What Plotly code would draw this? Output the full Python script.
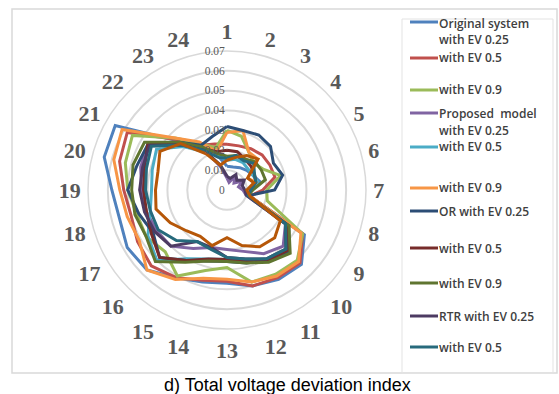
import plotly.graph_objects as go

categories = [str(i) for i in range(1, 25)]

series_names = [
    "Original system with EV 0.25", "Original system with EV 0.5", "Original system with EV 0.9",
    "Proposed model with EV 0.25", "Proposed model with EV 0.5", "Proposed model with EV 0.9",
    "OR with EV 0.25", "OR with EV 0.5", "OR with EV 0.9",
    "RTR with EV 0.25", "RTR with EV 0.5", "RTR with EV 0.9",
]

orig_025 = [0.012, 0.012, 0.013, 0.014, 0.015, 0.017, 0.012, 0.012, 0.045, 0.053, 0.052, 0.050,
            0.047, 0.048, 0.051, 0.057, 0.058, 0.056, 0.058, 0.064, 0.065, 0.035, 0.025, 0.018]
orig_05 = [0.023, 0.023, 0.024, 0.025, 0.025, 0.025, 0.018, 0.012, 0.044, 0.052, 0.051, 0.050,
           0.046, 0.047, 0.051, 0.054, 0.052, 0.050, 0.052, 0.056, 0.058, 0.036, 0.026, 0.024]
orig_09 = [0.030, 0.028, 0.022, 0.019, 0.021, 0.028, 0.020, 0.021, 0.044, 0.050, 0.049, 0.048,
           0.039, 0.042, 0.050, 0.044, 0.047, 0.047, 0.050, 0.053, 0.055, 0.037, 0.027, 0.022]
prop_025 = [0.006, 0.004, 0.008, 0.005, 0.009, 0.006, 0.008, 0.010, 0.034, 0.040, 0.037, 0.032,
            0.030, 0.030, 0.034, 0.040, 0.041, 0.042, 0.043, 0.045, 0.046, 0.033, 0.024, 0.012]
prop_05 = [0.015, 0.016, 0.016, 0.015, 0.015, 0.016, 0.012, 0.011, 0.035, 0.042, 0.040, 0.037,
           0.035, 0.036, 0.040, 0.050, 0.046, 0.040, 0.038, 0.039, 0.041, 0.031, 0.022, 0.018]
prop_09 = [0.029, 0.031, 0.022, 0.022, 0.012, 0.015, 0.012, 0.012, 0.043, 0.051, 0.050, 0.048,
           0.045, 0.046, 0.052, 0.057, 0.051, 0.052, 0.054, 0.059, 0.061, 0.037, 0.028, 0.020]
or_025 = [0.032, 0.031, 0.032, 0.031, 0.027, 0.029, 0.024, 0.011, 0.036, 0.044, 0.041, 0.038,
          0.036, 0.037, 0.041, 0.048, 0.043, 0.046, 0.050, 0.047, 0.046, 0.034, 0.026, 0.028]
or_05 = [0.020, 0.020, 0.018, 0.017, 0.016, 0.015, 0.012, 0.011, 0.035, 0.043, 0.041, 0.037,
         0.035, 0.036, 0.041, 0.048, 0.044, 0.042, 0.042, 0.043, 0.046, 0.033, 0.024, 0.020]
or_09 = [0.017, 0.018, 0.018, 0.020, 0.020, 0.020, 0.013, 0.011, 0.036, 0.045, 0.042, 0.038,
         0.036, 0.037, 0.042, 0.051, 0.047, 0.048, 0.048, 0.049, 0.048, 0.034, 0.025, 0.019]
rtr_025 = [0.007, 0.006, 0.009, 0.007, 0.010, 0.008, 0.009, 0.010, 0.034, 0.042, 0.040, 0.036,
           0.034, 0.030, 0.030, 0.040, 0.042, 0.043, 0.044, 0.044, 0.045, 0.032, 0.023, 0.013]
rtr_05 = [0.016, 0.018, 0.017, 0.019, 0.016, 0.015, 0.012, 0.011, 0.034, 0.042, 0.040, 0.036,
          0.034, 0.031, 0.030, 0.036, 0.040, 0.040, 0.041, 0.042, 0.044, 0.032, 0.023, 0.017]
rtr_09 = [0.015, 0.017, 0.020, 0.022, 0.012, 0.014, 0.010, 0.012, 0.031, 0.034, 0.033, 0.029,
          0.024, 0.029, 0.027, 0.029, 0.033, 0.037, 0.036, 0.036, 0.039, 0.033, 0.021, 0.013]

series_values = [orig_025, orig_05, orig_09, prop_025, prop_05, prop_09,
                 or_025, or_05, or_09, rtr_025, rtr_05, rtr_09]

colors = ["#4F81BD", "#C0504D", "#9BBB59", "#8064A2", "#4BACC6", "#F79646",
          "#2C4D75", "#772C2A", "#5F7530", "#4D3B62", "#276A7C", "#B65708"]

# legend rows shown in the reference (text lines, y pixel) and line samples
legend_text_rows = [
    ("Original system", 23), ("with EV 0.25", 40), ("with EV 0.5", 57), ("with EV 0.9", 89),
    ("Proposed  model", 113), ("with EV 0.25", 130), ("with EV 0.5", 146), ("with EV 0.9", 187),
    ("OR with EV 0.25", 211), ("with EV 0.5", 248), ("with EV 0.9", 283),
    ("RTR with EV 0.25", 316), ("with EV 0.5", 347),
]
legend_line_rows = [22, 58, 90, 113, 147, 188, 211, 248, 283, 316, 347]

W, H = 559, 394
cx, cy, R = 227, 190, 139

fig = go.Figure()
for name, vals, col in zip(series_names, series_values, colors):
    fig.add_trace(go.Scatterpolar(
        r=vals + vals[:1], theta=categories + categories[:1], mode="lines",
        name=name, line=dict(color=col, width=3), showlegend=False,
    ))

shapes = [
    dict(type="rect", xref="paper", yref="paper", x0=12 / W, x1=557 / W,
         y0=1 - 373 / H, y1=1 - 9 / H, line=dict(color="#D9D9D9", width=1.5)),
    dict(type="rect", xref="paper", yref="paper", x0=402 / W, x1=553 / W,
         y0=1 - 373 / H, y1=1 - 19 / H, line=dict(color="#E3E3E3", width=1)),
]
for y, col in zip(legend_line_rows, colors):
    shapes.append(dict(type="line", xref="paper", yref="paper", x0=410 / W, x1=438 / W,
                       y0=1 - y / H, y1=1 - y / H, line=dict(color=col, width=3)))

annotations = []
for txt, y in legend_text_rows:
    annotations.append(dict(text=txt, xref="paper", yref="paper", x=437 / W, y=1 - y / H,
                            xanchor="left", yanchor="middle", showarrow=False,
                            font=dict(family="Open Sans", size=12, color="#404040",
                                      weight=600)))
annotations.append(dict(text="d) Total voltage deviation index", xref="paper", yref="paper",
                        x=287 / W, y=1 - 385 / H, xanchor="center", yanchor="middle",
                        showarrow=False,
                        font=dict(family="Liberation Sans", size=18, color="#000000")))

fig.update_layout(
    width=W, height=H, margin=dict(l=0, r=0, t=0, b=0),
    paper_bgcolor="white", plot_bgcolor="white",
    polar=dict(
        domain=dict(x=[(cx - R) / W, (cx + R) / W], y=[(H - cy - R) / H, (H - cy + R) / H]),
        bgcolor="white",
        angularaxis=dict(type="category", categoryarray=categories, direction="clockwise",
                         rotation=90, showgrid=False, showline=True, linecolor="#D9D9D9",
                         linewidth=1.5, ticks="outside", ticklen=2, tickcolor="rgba(0,0,0,0)",
                         tickfont=dict(family="Liberation Serif", size=22, color="#595959",
                                       weight="bold")),
        radialaxis=dict(range=[0, 0.07], dtick=0.01, angle=90, side="counterclockwise",
                        tickangle=90, showline=False, gridcolor="#D9D9D9", gridwidth=1.5,
                        ticks="", tickfont=dict(family="Liberation Serif", size=11.5,
                                                color="#595959")),
    ),
    shapes=shapes, annotations=annotations,
)

fig.write_html("out.html")
